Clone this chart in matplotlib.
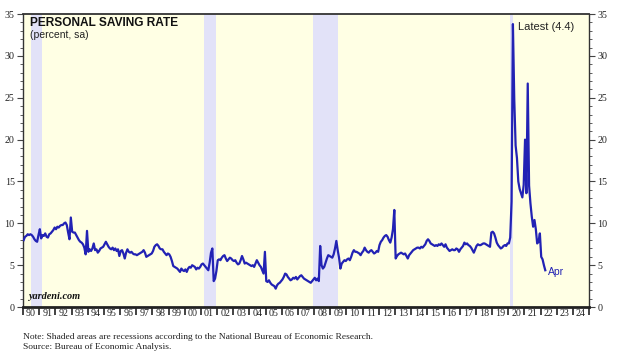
import numpy as np
import matplotlib

matplotlib.use("Agg")

import matplotlib.pyplot as plt
from matplotlib.ticker import FixedLocator, MultipleLocator, NullFormatter

# monthly personal saving rate, percent, Jan 1990 .. Apr 2022
start_year = 1990
saving_rate = [
    8.0, 8.4, 8.5, 8.7, 8.6, 8.7, 8.6, 8.4, 8.1, 7.9, 7.8, 8.6,  # 1990
    9.3, 8.2, 8.6, 8.5, 8.8, 8.4, 8.3, 8.7, 8.8, 9.0, 9.2, 9.5,  # 1991
    9.3, 9.6, 9.5, 9.7, 9.8, 9.8, 10.0, 10.1, 9.8, 8.9, 8.1, 10.7,  # 1992
    9.0, 8.9, 8.9, 8.6, 8.3, 8.0, 7.8, 7.7, 7.5, 7.1, 6.3, 9.1,  # 1993
    6.6, 6.9, 6.7, 7.0, 7.6, 6.8, 6.9, 6.5, 6.7, 7.0, 7.1, 7.2,  # 1994
    7.5, 7.8, 7.5, 7.2, 7.0, 6.9, 7.1, 6.8, 7.0, 6.7, 6.9, 6.1,  # 1995
    6.7, 6.8, 6.4, 5.8, 6.5, 6.9, 6.6, 6.5, 6.6, 6.4, 6.3, 6.3,  # 1996
    6.2, 6.3, 6.4, 6.5, 6.6, 6.8, 6.5, 6.0, 6.1, 6.2, 6.3, 6.4,  # 1997
    6.7, 7.2, 7.4, 7.5, 7.3, 7.0, 6.9, 6.9, 6.6, 6.4, 6.2, 6.4,  # 1998
    6.3, 6.0, 5.5, 4.9, 4.8, 4.7, 4.6, 4.4, 4.2, 4.6, 4.4, 4.3,  # 1999
    4.5, 4.2, 4.6, 4.8, 4.7, 5.0, 4.9, 4.8, 4.5, 4.7, 4.6, 4.8,  # 2000
    5.1, 5.2, 5.0, 4.8, 4.6, 4.4, 5.3, 6.5, 7.0, 3.1, 3.4, 4.3,  # 2001
    5.6, 5.7, 5.6, 5.9, 6.1, 6.2, 5.8, 5.5, 5.7, 5.9, 5.8, 5.6,  # 2002
    5.5, 5.6, 5.3, 5.1, 5.2, 5.6, 6.1, 5.7, 5.2, 5.3, 5.2, 5.1,  # 2003
    5.0, 4.9, 5.0, 4.8, 5.2, 5.6, 5.3, 5.0, 4.8, 4.4, 4.0, 6.6,  # 2004
    3.1, 3.0, 3.2, 2.9, 2.7, 2.6, 2.5, 2.2, 2.6, 2.8, 2.9, 3.1,  # 2005
    3.3, 3.6, 4.0, 3.9, 3.6, 3.4, 3.2, 3.3, 3.5, 3.4, 3.6, 3.3,  # 2006
    3.5, 3.7, 3.8, 3.6, 3.4, 3.3, 3.2, 3.1, 3.0, 2.9, 3.1, 3.3,  # 2007
    3.5, 3.2, 3.4, 3.1, 7.3, 5.0, 4.6, 4.8, 5.3, 5.8, 6.2, 6.1,  # 2008
    6.0, 5.9, 6.3, 7.0, 7.9, 6.8, 5.9, 4.6, 5.2, 5.4, 5.6, 5.5,  # 2009
    5.7, 5.8, 5.6, 6.0, 6.5, 6.8, 6.6, 6.6, 6.5, 6.4, 6.2, 6.5,  # 2010
    6.7, 7.1, 6.8, 6.6, 6.5, 6.7, 6.8, 6.6, 6.4, 6.5, 6.7, 6.6,  # 2011
    7.4, 7.8, 8.0, 8.3, 8.5, 8.6, 8.4, 8.0, 7.7, 8.3, 9.3, 11.6,  # 2012
    5.8, 6.1, 6.3, 6.4, 6.5, 6.4, 6.3, 6.4, 6.1, 5.8, 6.2, 6.4,  # 2013
    6.6, 6.8, 6.9, 7.0, 7.1, 7.1, 7.0, 7.2, 7.1, 7.3, 7.5, 7.9,  # 2014
    8.1, 7.9, 7.6, 7.5, 7.4, 7.3, 7.4, 7.3, 7.5, 7.4, 7.6, 7.4,  # 2015
    7.2, 7.5, 7.1, 6.9, 6.7, 6.8, 6.9, 6.8, 6.8, 7.0, 6.9, 6.6,  # 2016
    6.9, 7.1, 7.3, 7.7, 7.5, 7.6, 7.4, 7.3, 7.1, 6.8, 6.5, 6.9,  # 2017
    7.3, 7.5, 7.4, 7.4, 7.5, 7.6, 7.6, 7.5, 7.4, 7.3, 7.2, 8.9,  # 2018
    9.0, 8.8, 8.3, 7.7, 7.4, 7.2, 7.0, 7.1, 7.3, 7.4, 7.3, 7.6,  # 2019
    7.6, 8.3, 12.6, 33.8, 24.8, 19.3, 17.8, 15.0, 14.1, 13.6, 13.1, 14.6,  # 2020
    20.0, 13.6, 26.7, 14.5, 12.4, 10.8, 9.6, 10.4, 9.3, 7.6, 7.8, 8.8,  # 2021
    6.0, 5.7, 5.0, 4.4,  # 2022
]

# NBER recessions (start, end) as decimal years
recession_start = [1990.50, 2001.17, 2007.92, 2020.12]
recession_end = [1991.17, 2001.92, 2009.50, 2020.29]

year_labels = [f"{y % 100:02d}" for y in range(1990, 2025)]
latest_label = "Latest (4.4)"
last_month = "Apr"

LINE = "#2222b4"
BG = "#ffffe4"
SHADE = "#e2e2f8"
SERIF = "Liberation Serif"
SANS = "Liberation Sans"

t = start_year + np.arange(len(saving_rate)) / 12 + 1 / 24

fig = plt.figure(figsize=(6.28, 3.6), dpi=100)
ax = fig.add_axes([0.0366, 0.147, 0.9014, 0.814])
ax.set_facecolor(BG)

for a, b in zip(recession_start, recession_end):
    ax.axvspan(a, b, color=SHADE, lw=0, zorder=1)

ax.plot(t, saving_rate, color=LINE, lw=1.6, zorder=3)

ax.set_xlim(1990, 2025)
ax.set_ylim(0, 35)

# year boundaries as ticks, labels centred within each year
ax.xaxis.set_major_locator(FixedLocator(np.arange(1990, 2026)))
ax.xaxis.set_major_formatter(NullFormatter())
ax.xaxis.set_minor_locator(FixedLocator(np.arange(1990, 2025) + 0.5))
ax.set_xticklabels(year_labels, minor=True)
ax.tick_params(axis="x", which="major", direction="out", length=6, width=1.2, color="#222222")
ax.tick_params(axis="x", which="minor", length=0, pad=1.5, labelsize=7.2)

ax.yaxis.set_major_locator(MultipleLocator(5))
ax.yaxis.set_minor_locator(MultipleLocator(1))
ax.tick_params(axis="y", which="both", direction="out", left=True, right=True,
               labelleft=True, labelright=True, labelsize=7.2, color="#444444", pad=2)
ax.tick_params(axis="y", which="major", length=4)
ax.tick_params(axis="y", which="minor", length=2)

for lab in ax.get_xticklabels(minor=True) + ax.get_yticklabels():
    lab.set_family(SERIF)
    lab.set_color("#222222")

for side in ["left", "right", "top"]:
    ax.spines[side].set_color("#333333")
    ax.spines[side].set_linewidth(1.0)
ax.spines["top"].set_linewidth(1.3)
ax.spines["bottom"].set_color("#222222")
ax.spines["bottom"].set_linewidth(2.0)

ax.text(0.013, 0.99, "PERSONAL SAVING RATE", transform=ax.transAxes, ha="left", va="top",
        family=SANS, fontsize=8.6, fontweight="bold", color="#111111")
ax.text(0.013, 0.945, "(percent, sa)", transform=ax.transAxes, ha="left", va="top",
        family=SANS, fontsize=7.5, color="#222222")
ax.text(0.009, 0.02, "yardeni.com", transform=ax.transAxes, ha="left", va="bottom",
        family=SERIF, fontsize=7.4, fontweight="bold", style="italic", color="#111111")

ax.text(0.875, 0.955, latest_label, transform=ax.transAxes, ha="left", va="center",
        family=SANS, fontsize=8, color="#222222")
ax.annotate(last_month, xy=(t[-1], saving_rate[-1]), xytext=(2, -1),
            textcoords="offset points", ha="left", va="center",
            family=SANS, fontsize=7.5, color=LINE)

fig.text(0.037, 0.063, "Note: Shaded areas are recessions according to the National Bureau of Economic Research.",
         family=SERIF, fontsize=6.8, color="#222222", ha="left", va="center")
fig.text(0.037, 0.035, "Source: Bureau of Economic Analysis.",
         family=SERIF, fontsize=6.8, color="#222222", ha="left", va="center")

fig.savefig("out.png", dpi=100)
